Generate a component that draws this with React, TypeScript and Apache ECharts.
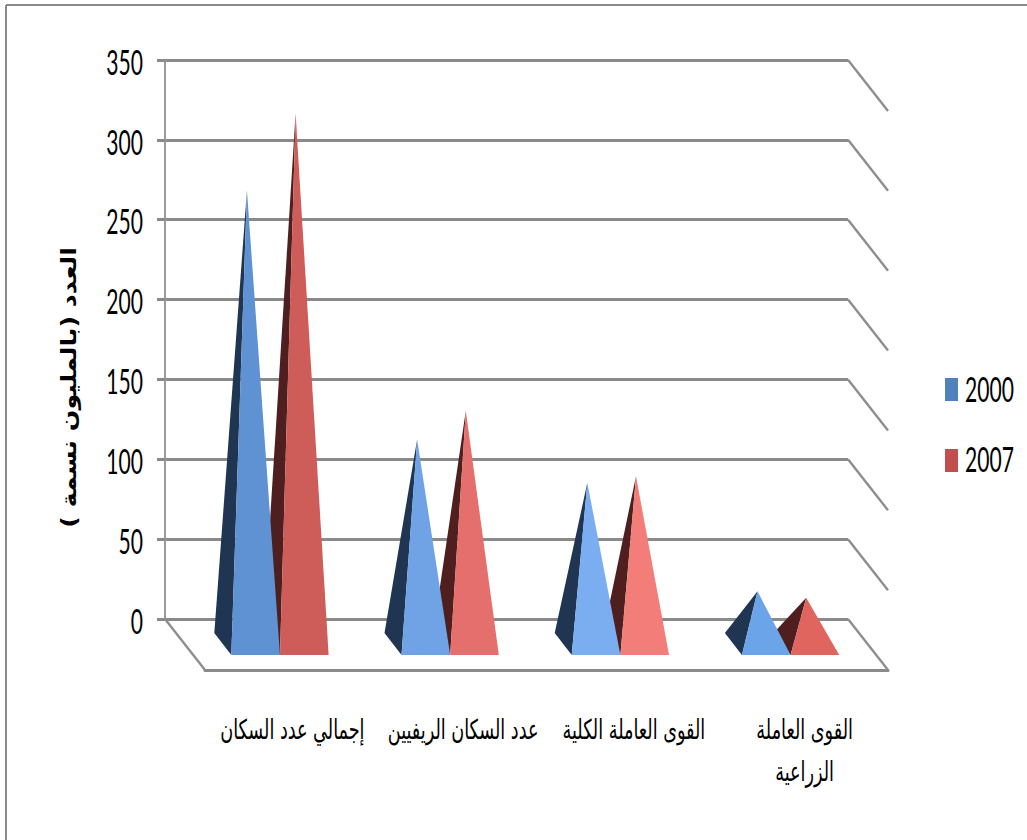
import React, { useEffect, useRef } from "react";
import * as echarts from "echarts";

const categories = ["إجمالي عدد السكان", "عدد السكان الريفيين", "القوى العاملة الكلية", "القوى العاملة\nالزراعية"];
const seriesNames = ["2000", "2007"];
const values2000 = [284, 128, 101, 33];
const values2007 = [332, 146, 105, 29];
const yTicks = [0, 50, 100, 150, 200, 250, 300, 350];
const axisTitle = "العدد (بالمليون نسمة )";

const frontBlue = ["#5F92D2", "#6FA3E6", "#7AAEF1", "#6CA4E9"];
const frontRed = ["#CE5C59", "#E56F6C", "#F27D79", "#E0655F"];
const legendColors = ["#4F81BD", "#C0504D"];
const sideBlue = "#1F3552";
const sideRed = "#4F1F1F";
const gridGray = "#8A8A8A";
const digitFont = "Lato, 'Liberation Sans', sans-serif";
const arabicFont = "'DejaVu Sans Condensed','DejaVu Sans',serif";

const DEPTH_X = 40;
const DEPTH_Y = 51;

function pyramid(front: string[], side: string, direction: number) {
  return (params: any, api: any) => {
    const idx = api.value(0);
    const v = api.value(1);
    const band = api.size([1, 0])[0];
    const w = band * 0.285;
    const wall = api.coord([idx, 0]);
    const top = api.coord([idx, v]);
    const seam = wall[0] + 29.6 - idx * 0.55;
    const x0 = direction < 0 ? seam - w : seam;
    const x1 = x0 + w;
    const yFront = wall[1] + 36;
    const apex = [(x0 + x1) / 2 - 8.7, top[1] + 25];
    return {
      type: "group",
      children: [
        {
          type: "polygon",
          shape: { points: [apex, [x0, yFront], [x0 - 17, yFront - 22]] },
          style: { fill: side },
        },
        {
          type: "polygon",
          shape: { points: [apex, [x0, yFront], [x1, yFront]] },
          style: { fill: front[idx] },
        },
      ],
    };
  };
}

function depthLines(params: any, api: any) {
  const v = api.value(1);
  const p = api.coord([0, v]);
  const right = params.coordSys.x + params.coordSys.width;
  const left = params.coordSys.x;
  const lineStyle = { stroke: "#8E8E8E", lineWidth: 2.4, fill: "none" };
  const children: any[] = [
    { type: "line", shape: { x1: right, y1: p[1], x2: right + DEPTH_X, y2: p[1] + DEPTH_Y }, style: lineStyle },
  ];
  if (v === 0) {
    children.push({ type: "line", shape: { x1: left, y1: p[1], x2: left + DEPTH_X, y2: p[1] + DEPTH_Y }, style: lineStyle });
  }
  return { type: "group", children };
}

export default function App() {
  const ref = useRef<HTMLDivElement>(null);
  useEffect(() => {
    const chart = echarts.init(ref.current!, null, { renderer: "svg" });
    chart.setOption({
      animation: false,
      backgroundColor: "#fff",
      grid: [
        { left: 165, top: 60, width: 683, height: 559 },
        { left: 205, top: 111, width: 683, height: 559 },
      ],
      xAxis: [
        { type: "category", gridIndex: 0, data: categories, axisLine: { show: false }, axisTick: { show: false }, axisLabel: { show: false } },
        {
          type: "category",
          gridIndex: 1,
          data: categories,
          axisLine: { show: true, lineStyle: { color: gridGray, width: 3 } },
          axisTick: { show: false },
          axisLabel: { show: false },
        },
      ],
      yAxis: [
        {
          type: "value",
          gridIndex: 0,
          min: 0,
          max: 350,
          interval: 50,
          axisLine: { show: true, lineStyle: { color: "#9A9A9A", width: 2 } },
          axisTick: { show: true, length: 8, lineStyle: { color: gridGray, width: 3 } },
          axisLabel: { show: false },
          splitLine: { show: true, lineStyle: { color: gridGray, width: 3 } },
        },
        { type: "value", gridIndex: 1, min: 0, max: 350, show: false },
      ],
      series: [
        {
          name: "grid-depth",
          type: "custom",
          silent: true,
          z: 1,
          xAxisIndex: 0,
          yAxisIndex: 0,
          renderItem: depthLines,
          encode: { x: 0, y: 1 },
          data: yTicks.map((t) => [0, t]),
        },
        {
          name: seriesNames[0],
          type: "custom",
          z: 4,
          xAxisIndex: 0,
          yAxisIndex: 0,
          renderItem: pyramid(frontBlue, sideBlue, -1),
          encode: { x: 0, y: 1 },
          data: values2000.map((v, i) => [i, v]),
        },
        {
          name: seriesNames[1],
          type: "custom",
          z: 3,
          xAxisIndex: 0,
          yAxisIndex: 0,
          renderItem: pyramid(frontRed, sideRed, 1),
          encode: { x: 0, y: 1 },
          data: values2007.map((v, i) => [i, v]),
        },
      ],
    });

    const tall = (x: number, y: number, text: string, align: string) => ({
      type: "text",
      silent: true,
      x,
      y,
      scaleX: 0.62,
      scaleY: 1,
      style: { text, fill: "#000", font: `34px ${digitFont}`, align, verticalAlign: "middle" },
    });

    chart.setOption({
      graphic: [
        { type: "line", silent: true, shape: { x1: 6, y1: 5, x2: 1027, y2: 5 }, style: { stroke: gridGray, lineWidth: 2 } },
        { type: "line", silent: true, shape: { x1: 6, y1: 5, x2: 6, y2: 840 }, style: { stroke: gridGray, lineWidth: 2 } },
        {
          type: "text",
          silent: true,
          x: 69,
          y: 387.5,
          rotation: Math.PI / 2,
          scaleX: 1.34,
          style: { text: axisTitle, fill: "#000", font: `bold 21px ${arabicFont}`, align: "center", verticalAlign: "middle" },
        },
        ...yTicks.map((t) => tall(143, (chart.convertToPixel({ yAxisIndex: 0 }, t) as number) + 1.5, String(t), "right")),
        ...categories.map((c, i) => ({
          type: "text",
          silent: true,
          x: (chart.convertToPixel({ xAxisIndex: 1 }, i) as number) + 2,
          y: 709,
          scaleY: 1.4,
          style: { text: c, fill: "#000", font: `19.6px ${arabicFont}`, lineHeight: 30, align: "center", verticalAlign: "top" },
        })),
        ...seriesNames.flatMap((name, i) => [
          { type: "rect", silent: true, shape: { x: 945, y: 378 + i * 71, width: 13, height: 23 }, style: { fill: legendColors[i] } },
          tall(965, 388.5 + i * 70, name, "left"),
        ]),
      ],
    });
    return () => chart.dispose();
  }, []);
  return <div ref={ref} style={{ position: "fixed", left: 0, top: 0, width: 1027, height: 840 }} />;
}
